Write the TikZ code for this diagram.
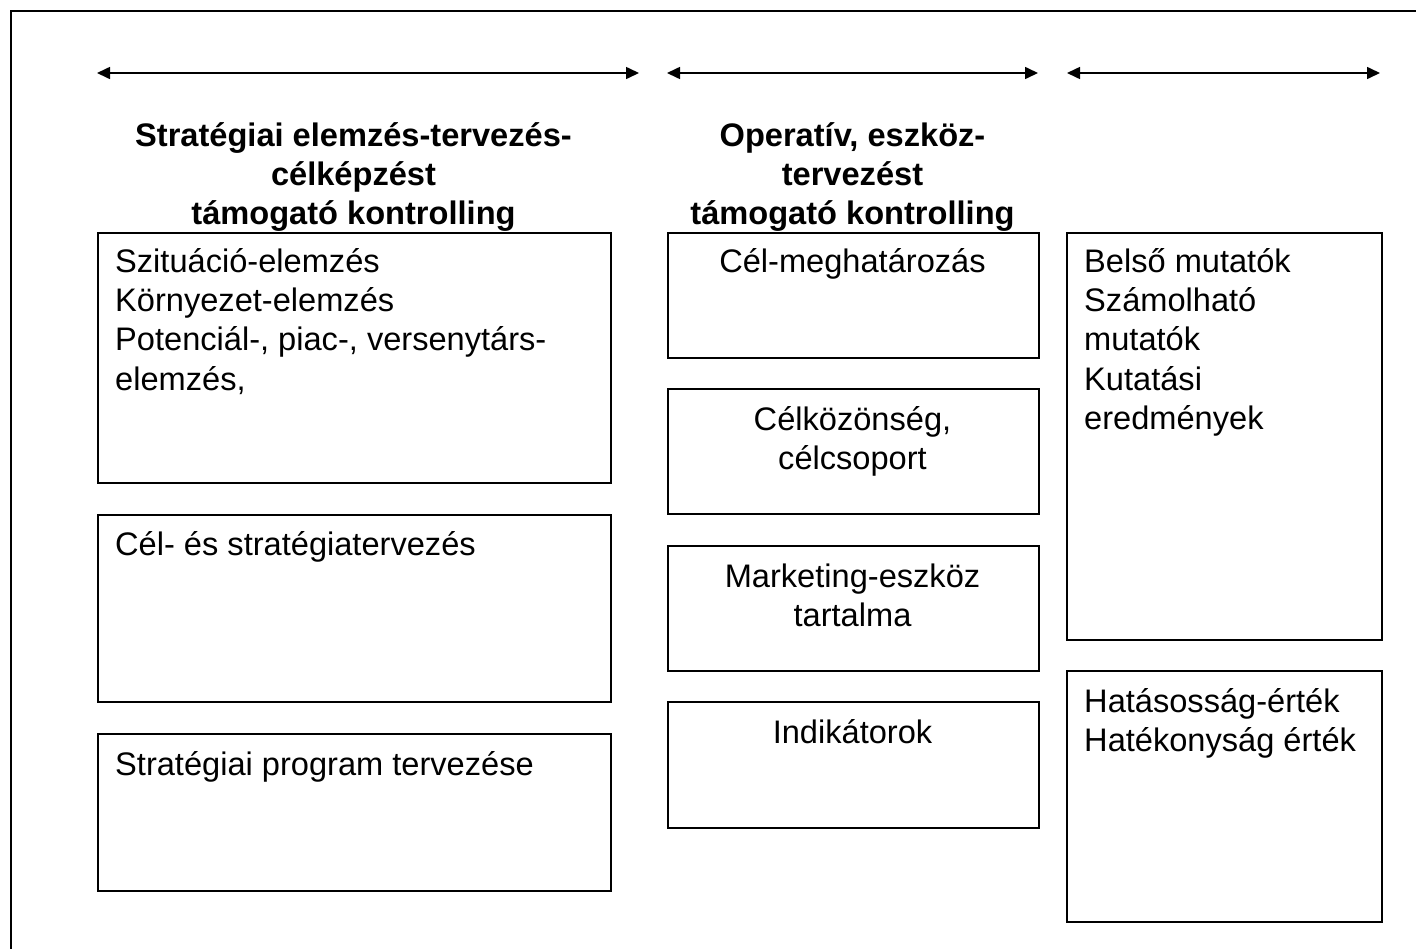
\documentclass[tikz,border=0pt]{standalone}
\usepackage{fontspec}
\setmainfont{Liberation Sans}
\usetikzlibrary{arrows.meta}
\begin{document}
\begin{tikzpicture}[x=1pt,y=-1pt,
  box/.style={draw=black,line width=2pt,inner sep=0pt,anchor=north west},
  txt/.style={inner sep=0pt,font=\fontsize{32.6}{39.4}\selectfont},
  ltxt/.style={txt,align=left,anchor=base west},
  ctxt/.style={txt,align=center,anchor=base},
  head/.style={inner sep=0pt,align=center,anchor=base,font=\fontsize{32.6}{39.2}\selectfont\bfseries},
  dbl/.style={line width=1.6pt,{Triangle[length=13pt,width=12pt]}-{Triangle[length=13pt,width=12pt]}}]
\useasboundingbox (0,0) rectangle (1416,948);
\draw[line width=2pt] (11,960) -- (11,11) -- (1430,11);
% arrows
\coordinate (a1l) at (97,73); \coordinate (a1r) at (639,73);
\coordinate (a2l) at (667,73); \coordinate (a2r) at (1038,73);
\coordinate (a3l) at (1067,73); \coordinate (a3r) at (1380,73);
\draw[dbl] (a1l) -- (a1r);
\draw[dbl] (a2l) -- (a2r);
\draw[dbl] (a3l) -- (a3r);
% headings (base anchor = last line baseline)
\node[head] (h1) at (353.5,224.4) {Stratégiai elemzés-tervezés-\\célképzést\\támogató kontrolling};
\node[head] (h2) at (852.5,224.4) {Operatív, eszköz-\\tervezést\\támogató kontrolling};
% left column
\node[box,minimum width=513pt,minimum height=250pt] (L1) at (97,232) {};
\node[box,minimum width=513pt,minimum height=187pt] (L2) at (97,514) {};
\node[box,minimum width=513pt,minimum height=157pt] (L3) at (97,733) {};
\node[ltxt] (tL1) at (115,390.2) {Szituáció-elemzés\\Környezet-elemzés\\Potenciál-, piac-, versenytárs-\\elemzés,};
\node[ltxt] (tL2) at (115,555) {Cél- és stratégiatervezés};
\node[ltxt] (tL3) at (115,775) {Stratégiai program tervezése};
% middle column
\node[box,minimum width=371pt,minimum height=125pt] (M1) at (667,232) {};
\node[box,minimum width=371pt,minimum height=125pt] (M2) at (667,388) {};
\node[box,minimum width=371pt,minimum height=125pt] (M3) at (667,545) {};
\node[box,minimum width=371pt,minimum height=126pt] (M4) at (667,701) {};
\node[ctxt] (tM1) at (852.5,272) {Cél-meghatározás};
\node[ctxt] (tM2) at (852.5,469.4) {Célközönség,\\célcsoport};
\node[ctxt] (tM3) at (852.5,626.4) {Marketing-eszköz\\tartalma};
\node[ctxt] (tM4) at (852.5,743) {Indikátorok};
% right column
\node[box,minimum width=315pt,minimum height=407pt] (R1) at (1066,232) {};
\node[box,minimum width=315pt,minimum height=251pt] (R2) at (1066,670) {};
\node[ltxt] (tR1) at (1084,429.6) {Belső mutatók\\Számolható\\mutatók\\Kutatási\\eredmények};
\node[ltxt] (tR2) at (1084,751.4) {Hatásosság-érték\\Hatékonyság érték};
\end{tikzpicture}
\end{document}
